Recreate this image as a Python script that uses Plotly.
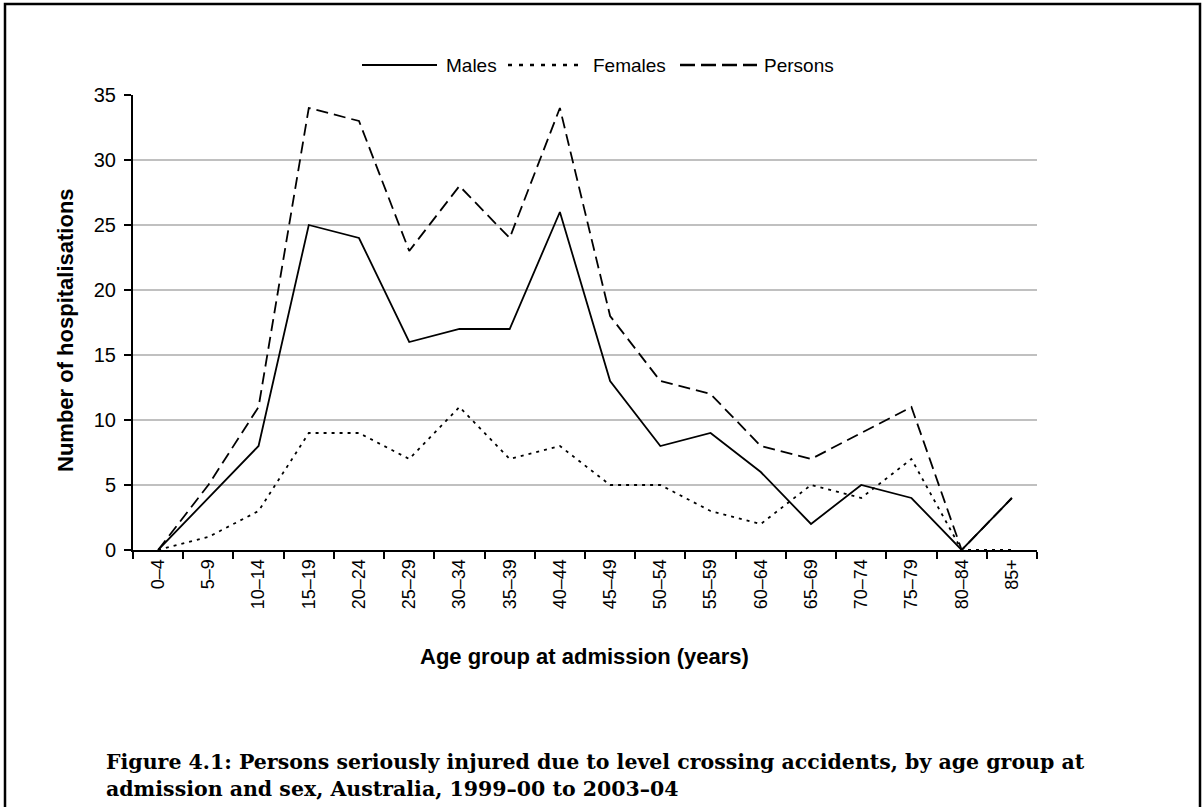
import plotly.graph_objects as go

age_groups = ["0–4", "5–9", "10–14", "15–19", "20–24", "25–29", "30–34", "35–39",
              "40–44", "45–49", "50–54", "55–59", "60–64", "65–69", "70–74", "75–79",
              "80–84", "85+"]
males = [0, 4, 8, 25, 24, 16, 17, 17, 26, 13, 8, 9, 6, 2, 5, 4, 0, 4]
females = [0, 1, 3, 9, 9, 7, 11, 7, 8, 5, 5, 3, 2, 5, 4, 7, 0, 0]
persons = [0, 5, 11, 34, 33, 23, 28, 24, 34, 18, 13, 12, 8, 7, 9, 11, 0, 4]

W, H = 1203, 807
L, R, T, B = 133, 1037, 95, 550

def px(x):
    return (x - L) / (R - L)

def py(y):
    return (B - y) / (B - T)

fig = go.Figure()
fig.add_trace(go.Scatter(x=age_groups, y=males, mode="lines", name="Males",
                         line=dict(color="black", width=1.8)))
fig.add_trace(go.Scatter(x=age_groups, y=females, mode="lines", name="Females",
                         line=dict(color="black", width=1.8, dash="3px,5px")))
fig.add_trace(go.Scatter(x=age_groups, y=persons, mode="lines", name="Persons",
                         line=dict(color="black", width=1.8, dash="12px,6px")))

font_sans = "Liberation Sans, Arial, sans-serif"
font_serif = "DejaVu Serif, serif"

shapes = []
annotations = []

# manual legend
leg_y = py(65)
legend_items = [
    ("Males", 362, 437, 444, "solid", 1.8),
    ("Females", 508, 583, 591, "4px,7px", 2.5),
    ("Persons", 680, 757, 762, "15px,6px", 2.5),
]
for name, x0, x1, xt, dash, w in legend_items:
    shapes.append(dict(type="line", xref="paper", yref="paper",
                       x0=px(x0), x1=px(x1), y0=leg_y, y1=leg_y,
                       line=dict(color="black", width=w, dash=dash)))
    annotations.append(dict(text=name, xref="paper", yref="paper", x=px(xt), y=leg_y,
                            xanchor="left", yanchor="middle", showarrow=False,
                            font=dict(family=font_sans, size=19, color="black")))

# outer frame (left, top, right)
shapes.append(dict(type="path", xref="paper", yref="paper",
                   path=f"M {px(5)} {py(820)} L {px(5)} {py(4)} L {px(1200)} {py(4)} L {px(1200)} {py(820)}",
                   line=dict(color="black", width=2.5)))

# axis titles
annotations.append(dict(text="<b>Number of hospitalisations</b>", xref="paper", yref="paper",
                        x=px(65), y=py(330), textangle=-90, showarrow=False,
                        xanchor="center", yanchor="middle",
                        font=dict(family=font_sans, size=22, color="black")))
annotations.append(dict(text="<b>Age group at admission (years)</b>", xref="paper", yref="paper",
                        x=px(584), y=py(656), showarrow=False,
                        xanchor="center", yanchor="middle",
                        font=dict(family=font_sans, size=22, color="black")))

# caption
annotations.append(dict(text="<b>Figure 4.1: Persons seriously injured due to level crossing accidents, by age group at</b>",
                        xref="paper", yref="paper", x=px(104), y=py(762), showarrow=False,
                        xanchor="left", yanchor="middle",
                        font=dict(family=font_serif, size=20.5, color="black")))
annotations.append(dict(text="<b>admission and sex, Australia, 1999–00 to 2003–04</b>",
                        xref="paper", yref="paper", x=px(104), y=py(789), showarrow=False,
                        xanchor="left", yanchor="middle",
                        font=dict(family=font_serif, size=20.5, color="black")))

fig.update_layout(
    width=W, height=H,
    margin=dict(l=L, r=W - R, t=T, b=H - B, pad=0),
    paper_bgcolor="white", plot_bgcolor="white",
    showlegend=False,
    shapes=shapes, annotations=annotations,
    font=dict(family=font_sans, size=18, color="black"),
)
fig.update_xaxes(type="category", tickson="boundaries", ticks="outside", ticklen=7,
                 tickwidth=2, tickcolor="black", tickangle=-90,
                 showline=True, linecolor="black", linewidth=2, showgrid=False,
                 tickfont=dict(family=font_sans, size=18, color="black"),
                 range=[-0.5, 17.5])
fig.update_yaxes(range=[0, 35], dtick=5, ticks="outside", ticklen=7, tickwidth=2,
                 tickcolor="black", showline=True, linecolor="black", linewidth=2,
                 showgrid=True, gridcolor="#c0c0c0", gridwidth=2, zeroline=False,
                 ticklabelstandoff=4,
                 tickfont=dict(family=font_sans, size=20, color="black"))

fig.write_html("out.html", config={"displayModeBar": False},
               post_script="document.body.style.margin='0';document.body.style.overflow='hidden';")
